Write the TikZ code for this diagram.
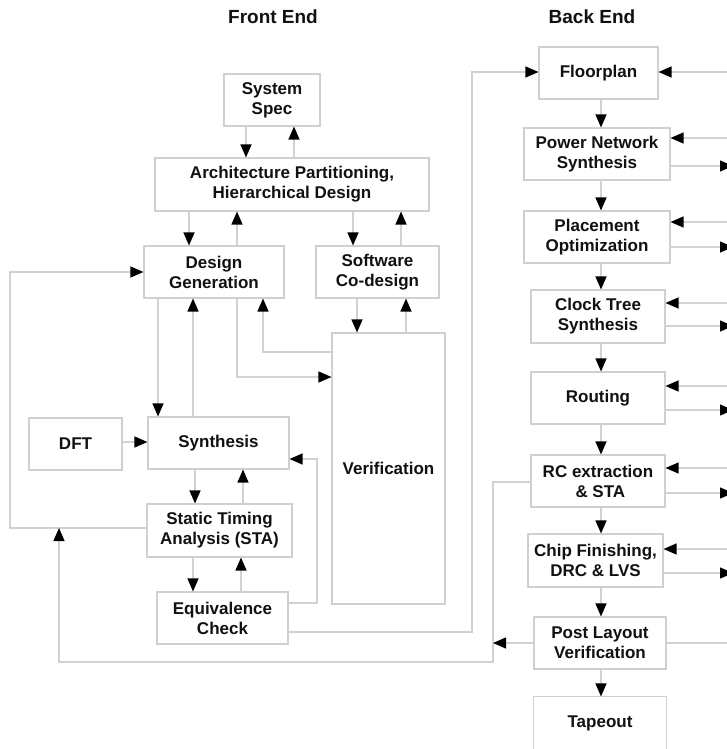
\documentclass[tikz,border=0pt]{standalone}
\usepackage{fontspec}
\setmainfont{Liberation Sans}
\usetikzlibrary{arrows.meta}
\definecolor{boxgray}{HTML}{D0D0D0}
\definecolor{linegray}{HTML}{D2D2D2}
\definecolor{txt}{HTML}{111111}
\begin{document}
\begin{tikzpicture}[x=1pt,y=-1pt,
  box/.style={draw=boxgray,line width=1.1pt,fill=white,inner sep=0pt,align=center,text=txt,
    font=\bfseries\fontsize{17}{20}\selectfont},
  title/.style={inner sep=0pt,text=txt,font=\bfseries\fontsize{19}{22}\selectfont},
  ln/.style={draw=linegray,line width=1.2pt},
  arr/.style={ln,-{Triangle[black,length=13pt,width=11pt]}}]
\useasboundingbox (0,0) rectangle (727,749);
\clip (0,0) rectangle (727,749);
\fill[white] (0,0) rectangle (727,749);

% titles
\node[title] (fe) at (273,17) {Front End};
\node[title] (be) at (592,17) {Back End};

% front end boxes
\node[box,minimum width=96,minimum height=52] (spec) at (272,100) {System\\Spec};
\node[box,minimum width=274,minimum height=53] (arch) at (292,184.5) {Architecture Partitioning,\\Hierarchical Design};
\node[box,minimum width=140,minimum height=52] (dg) at (214,272) {Design\\Generation};
\node[box,minimum width=123,minimum height=52] (sw) at (377.5,272) {Software\\Co-design};
\node[box,minimum width=113,minimum height=271] (ver) at (388.5,468.5) {Verification};
\node[box,minimum width=93,minimum height=52] (dft) at (75.5,444) {DFT};
\node[box,minimum width=141,minimum height=52] (syn) at (218.5,443) {Synthesis};
\node[box,minimum width=145,minimum height=53] (sta) at (219.5,530.5) {Static Timing\\Analysis (STA)};
\node[box,minimum width=131,minimum height=52] (eq) at (222.5,618) {Equivalence\\Check};

% back end boxes
\node[box,minimum width=119,minimum height=52] (fp) at (598.5,73) {Floorplan};
\node[box,minimum width=146,minimum height=52] (pns) at (597,154) {Power Network\\Synthesis};
\node[box,minimum width=146,minimum height=52] (pl) at (597,237) {Placement\\Optimization};
\node[box,minimum width=134,minimum height=53] (cts) at (598,316.5) {Clock Tree\\Synthesis};
\node[box,minimum width=134,minimum height=52] (rt) at (598,398) {Routing};
\node[box,minimum width=134,minimum height=52] (rc) at (598,481) {RC extraction\\\ \& STA};
\node[box,minimum width=135,minimum height=53] (cf) at (595.5,560.5) {Chip Finishing,\\DRC \& LVS};
\node[box,minimum width=132,minimum height=52] (pv) at (600,643) {Post Layout\\Verification};
\node[box,draw=none,fill=none,minimum width=132,minimum height=52] (tp) at (600,723) {Tapeout};
\draw[draw=boxgray,line width=1.1pt] ([yshift=-20pt]tp.south west) |- (tp.north east) -- ([yshift=-20pt]tp.south east);

% front end vertical pairs
\draw[arr] (spec.south -| 246,0) -- (arch.north -| 246,0);
\draw[arr] (arch.north -| 294,0) -- (spec.south -| 294,0);
\draw[arr] (arch.south -| 189,0) -- (dg.north -| 189,0);
\draw[arr] (dg.north -| 237,0) -- (arch.south -| 237,0);
\draw[arr] (arch.south -| 353,0) -- (sw.north -| 353,0);
\draw[arr] (sw.north -| 401,0) -- (arch.south -| 401,0);
\draw[arr] (sw.south -| 357,0) -- (ver.north -| 357,0);
\draw[arr] (ver.north -| 406,0) -- (sw.south -| 406,0);
\draw[arr] (dg.south -| 158,0) -- (syn.north -| 158,0);
\draw[arr] (syn.north -| 193,0) -- (dg.south -| 193,0);
\draw[arr] (syn.south -| 195,0) -- (sta.north -| 195,0);
\draw[arr] (sta.north -| 243,0) -- (syn.south -| 243,0);
\draw[arr] (sta.south -| 193,0) -- (eq.north -| 193,0);
\draw[arr] (eq.north -| 241,0) -- (sta.south -| 241,0);

% front end routed connectors
\draw[arr] (dg.south -| 237,0) |- (ver.west |- 0,377);
\draw[arr] (ver.west |- 0,352) -| (dg.south -| 263,0);
\draw[arr] (dft.east |- 0,442) -- (syn.west |- 0,442);
\draw[arr] (eq.east |- 0,603) -| (317,459) -- (syn.east |- 0,459);
\draw[arr] (eq.east |- 0,632) -| (472,72) -- (fp.west |- 0,72);
\draw[arr] (sta.west |- 0,528) -| (10,272) -- (dg.west |- 0,272);

% back end feedback to front end
\coordinate (j1) at (59,528);
\coordinate (j2) at (493,643);
\draw[arr] (rc.west |- 0,482) -| (493,662) -| (j1);
\draw[arr] (pv.west |- 0,643) -- (j2);

% back end vertical chain
\draw[arr] (fp.south -| 601,0) -- (pns.north -| 601,0);
\draw[arr] (pns.south -| 601,0) -- (pl.north -| 601,0);
\draw[arr] (pl.south -| 601,0) -- (cts.north -| 601,0);
\draw[arr] (cts.south -| 601,0) -- (rt.north -| 601,0);
\draw[arr] (rt.south -| 601,0) -- (rc.north -| 601,0);
\draw[arr] (rc.south -| 601,0) -- (cf.north -| 601,0);
\draw[arr] (cf.south -| 601,0) -- (pv.north -| 601,0);
\draw[arr] (pv.south -| 601,0) -- (tp.north -| 601,0);

% right-edge stubs
\coordinate (i1) at (727,72);
\coordinate (i2) at (727,138);
\coordinate (i3) at (727,222);
\coordinate (i4) at (727,303);
\coordinate (i5) at (727,386);
\coordinate (i6) at (727,468);
\coordinate (i7) at (727,549);
\coordinate (o2) at (733,166);
\coordinate (o3) at (733,247);
\coordinate (o4) at (733,326);
\coordinate (o5) at (733,410);
\coordinate (o6) at (733,493);
\coordinate (o7) at (733,573);
\coordinate (o8) at (727,643);
\draw[arr] (i1) -- (fp.east |- i1);
\draw[arr] (i2) -- (pns.east |- i2);
\draw[arr] (i3) -- (pl.east |- i3);
\draw[arr] (i4) -- (cts.east |- i4);
\draw[arr] (i5) -- (rt.east |- i5);
\draw[arr] (i6) -- (rc.east |- i6);
\draw[arr] (i7) -- (cf.east |- i7);
\draw[arr] (pns.east |- o2) -- (o2);
\draw[arr] (pl.east |- o3) -- (o3);
\draw[arr] (cts.east |- o4) -- (o4);
\draw[arr] (rt.east |- o5) -- (o5);
\draw[arr] (rc.east |- o6) -- (o6);
\draw[arr] (cf.east |- o7) -- (o7);
\draw[ln] (pv.east |- o8) -- (o8);
\end{tikzpicture}
\end{document}
